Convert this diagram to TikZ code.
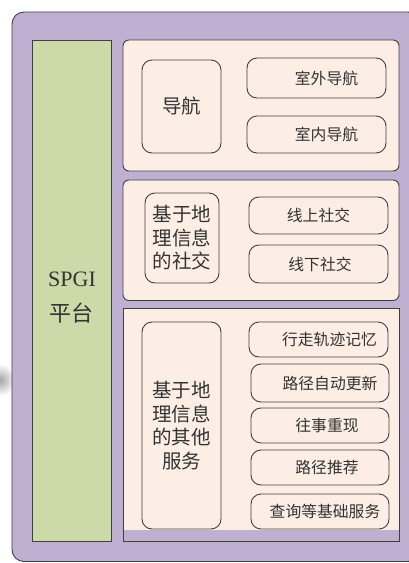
\documentclass[tikz,border=0pt]{standalone}
\usepackage{fontspec}
\setmainfont{Liberation Serif}
\newfontfamily\cjk{Noto Sans CJK SC}
\definecolor{purp}{HTML}{BFB0D2}
\definecolor{grn}{HTML}{CBDAA8}
\definecolor{beige}{HTML}{FCEEE4}
\definecolor{edge}{HTML}{3F3F3F}
\definecolor{txt}{HTML}{333333}
\begin{document}
\begin{tikzpicture}[x=1pt,y=-1pt,
  panel/.style={draw=edge,line width=0.9pt,fill=beige,rounded corners=6pt},
  catbox/.style={draw=edge,line width=0.9pt,fill=beige,rounded corners=10pt,inner sep=0pt,
     text=txt,font=\cjk\fontsize{19.5}{23.5}\selectfont,align=center},
  itembox/.style={draw=edge,line width=0.9pt,fill=beige,rounded corners=10pt,inner sep=0pt,
     text=txt,font=\cjk\fontsize{15.8}{18}\selectfont,align=center}]
\useasboundingbox (0,0) rectangle (408,563);
% soft shadow artifact at left
\begin{scope}
\clip (0,350) rectangle (11.5,410);
\shade[inner color=black!35,outer color=white] (0,380) circle (16);
\end{scope}
% outer frame
\draw[draw=edge,line width=0.9pt,fill=purp,rounded corners=12pt] (12,12) rectangle (420,561.5);
% platform column
\node[draw=edge,line width=0.9pt,fill=grn,minimum width=79pt,minimum height=501pt,inner sep=0pt,anchor=north west] (spgi) at (32,40) {};
\node[text=txt,align=center,font=\fontsize{22}{35}\selectfont] (spgil) at (72,298) {SPGI\\{\cjk 平台}};
% panels
\draw[panel] (123,40) rectangle (399,171);
\draw[panel] (123,180) rectangle (399,300.5);
\fill[purp] (123,308) rectangle (399,541);
\fill[beige] (123,308) rectangle (399,530);
\draw[draw=edge,line width=0.9pt] (123,308) rectangle (399,541);
% navigation
\node[catbox,minimum width=79pt,minimum height=93pt] (nav) at (181.5,106.5) {导航};
\node[itembox,minimum width=139pt,minimum height=40pt] (outdoor) at (316.5,78) {\hspace{20pt}室外导航};
\node[itembox,minimum width=139pt,minimum height=37pt] (indoor) at (316.5,134.5) {\hspace{20pt}室内导航};
% social
\node[catbox,minimum width=74pt,minimum height=90pt] (social) at (182,238) {基于地\\理信息\\的社交};
\node[itembox,minimum width=139pt,minimum height=37pt] (online) at (318.5,215.5) {线上社交};
\node[itembox,minimum width=139pt,minimum height=38pt] (offline) at (318.5,264) {\hspace{3pt}线下社交};
% other services
\node[catbox,minimum width=79pt,minimum height=207pt] (other) at (181.5,425.5) {基于地\\理信息\\的其他\\服务};
\node[itembox,minimum width=139pt,minimum height=35pt] (track) at (318.5,339.5) {\hspace{22pt}行走轨迹记忆};
\node[itembox,minimum width=138pt,minimum height=38pt] (route) at (320,383) {\hspace{20pt}路径自动更新};
\node[itembox,minimum width=138pt,minimum height=35pt] (memory) at (320,425.5) {\hspace{14pt}往事重现};
\node[itembox,minimum width=138pt,minimum height=35pt] (recommend) at (320,467.5) {\hspace{14pt}路径推荐};
\node[itembox,minimum width=138pt,minimum height=35pt] (query) at (320,511.5) {\hspace{10pt}查询等基础服务};
\end{tikzpicture}
\end{document}
